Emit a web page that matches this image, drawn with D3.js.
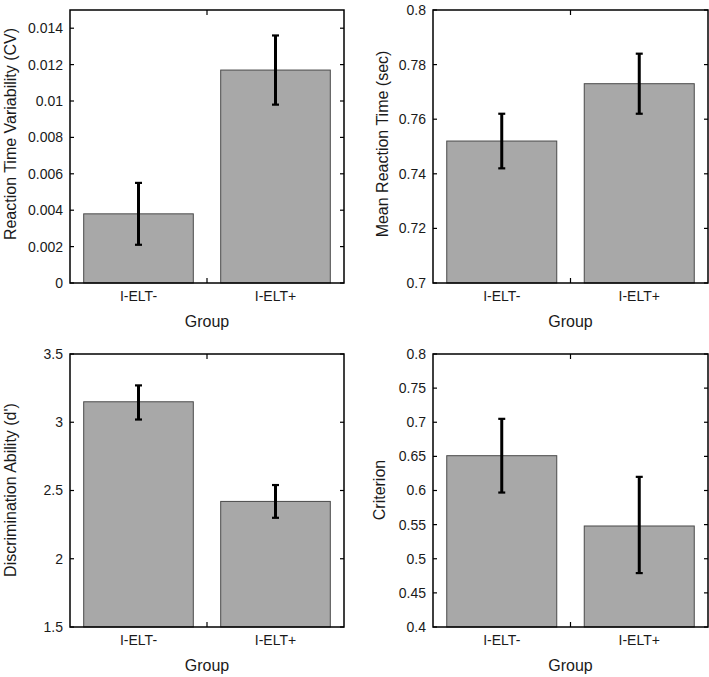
<!DOCTYPE html>
<html>
<head>
<meta charset="utf-8">
<script src="https://cdn.jsdelivr.net/npm/d3@7"></script>
<style>
  body { margin: 0; background: #fff; }
  svg { display: block; }
  text { font-family: "Liberation Sans", Arial, sans-serif; fill: #1a1a1a; }
</style>
</head>
<body>
<svg id="chart" width="709" height="677"></svg>
<script>
// ---- data ----
const groups = ["I-ELT-", "I-ELT+"];

const cvMean  = [0.0038, 0.0117];
const cvLow   = [0.0021, 0.0098];
const cvHigh  = [0.0055, 0.0136];
const cvTicks = [0, 0.002, 0.004, 0.006, 0.008, 0.01, 0.012, 0.014];

const rtMean  = [0.752, 0.773];
const rtLow   = [0.742, 0.762];
const rtHigh  = [0.762, 0.784];
const rtTicks = [0.7, 0.72, 0.74, 0.76, 0.78, 0.8];

const dMean   = [3.15, 2.42];
const dLow    = [3.02, 2.30];
const dHigh   = [3.27, 2.54];
const dTicks  = [1.5, 2, 2.5, 3, 3.5];

const cMean   = [0.651, 0.548];
const cLow    = [0.597, 0.479];
const cHigh   = [0.705, 0.620];
const cTicks  = [0.4, 0.45, 0.5, 0.55, 0.6, 0.65, 0.7, 0.75, 0.8];

const yLabels = ["Reaction Time Variability (CV)", "Mean Reaction Time (sec)",
                 "Discrimination Ability (d')", "Criterion"];
const xLabel = "Group";

// ---- layout (positions only) ----
const panels = [
  {mean: cvMean, low: cvLow, high: cvHigh, ticks: cvTicks, domain: [0, 0.015], label: yLabels[0],
   x0: 70, x1: 344, y0: 10, y1: 283, labX: 10, labY: 134},
  {mean: rtMean, low: rtLow, high: rtHigh, ticks: rtTicks, domain: [0.7, 0.8], label: yLabels[1],
   x0: 433, x1: 708, y0: 10, y1: 283, labX: 382, labY: 144},
  {mean: dMean, low: dLow, high: dHigh, ticks: dTicks, domain: [1.5, 3.5], label: yLabels[2],
   x0: 70, x1: 344, y0: 354, y1: 627, labX: 10, labY: 490},
  {mean: cMean, low: cLow, high: cHigh, ticks: cTicks, domain: [0.4, 0.8], label: yLabels[3],
   x0: 433, x1: 708, y0: 354, y1: 627, labX: 379, labY: 490}
];

const svg = d3.select("#chart");
const TICK_FS = "14px", LABEL_FS = "16px";

panels.forEach(p => {
  const g = svg.append("g");
  const x = d3.scaleBand().domain(groups).range([p.x0, p.x1]).paddingInner(0.2).paddingOuter(0.1);
  const xb = d3.scaleBand().domain(groups).range([p.x0, p.x1]); // for boundary ticks
  const y = d3.scaleLinear().domain(p.domain).range([p.y1, p.y0]);

  // bars
  g.selectAll("rect.bar").data(groups).join("rect")
    .attr("class", "bar")
    .attr("x", d => x(d))
    .attr("width", x.bandwidth())
    .attr("y", (d, i) => y(p.mean[i]))
    .attr("height", (d, i) => y(p.domain[0]) - y(p.mean[i]))
    .attr("fill", "#a8a8a8")
    .attr("stroke", "#4a4a4a")
    .attr("stroke-width", 1);

  // error bars
  const cx = d => x(d) + x.bandwidth() / 2;
  g.selectAll("line.err").data(groups).join("line")
    .attr("x1", cx).attr("x2", cx)
    .attr("y1", (d, i) => y(p.low[i])).attr("y2", (d, i) => y(p.high[i]))
    .attr("stroke", "#000").attr("stroke-width", 3);
  ["low", "high"].forEach(k => {
    g.selectAll("line.cap" + k).data(groups).join("line")
      .attr("x1", d => cx(d) - 3.5).attr("x2", d => cx(d) + 3.5)
      .attr("y1", (d, i) => y(p[k][i])).attr("y2", (d, i) => y(p[k][i]))
      .attr("stroke", "#000").attr("stroke-width", 2.2);
  });

  // left axis (ticks inward, labels outside)
  const left = d3.axisLeft(y).tickValues(p.ticks).tickSize(0).tickPadding(7).tickFormat(d3.format(""));
  const la = g.append("g").attr("transform", `translate(${p.x0},0)`).call(left);
  la.select(".domain").remove();
  la.selectAll("text").style("font-size", TICK_FS).attr("fill", "#1a1a1a");

  // inward ticks on left and right
  g.selectAll("line.ytl").data(p.ticks).join("line")
    .attr("x1", p.x0).attr("x2", p.x0 + 4)
    .attr("y1", d => y(d)).attr("y2", d => y(d))
    .attr("stroke", "#000").attr("stroke-width", 1.2);
  g.selectAll("line.ytr").data(p.ticks).join("line")
    .attr("x1", p.x1).attr("x2", p.x1 - 4)
    .attr("y1", d => y(d)).attr("y2", d => y(d))
    .attr("stroke", "#000").attr("stroke-width", 1.2);

  // bottom category labels
  const bottom = d3.axisBottom(x).tickSize(0).tickPadding(8);
  const ba = g.append("g").attr("transform", `translate(0,${p.y1})`).call(bottom);
  ba.select(".domain").remove();
  ba.selectAll("text").style("font-size", TICK_FS).attr("fill", "#1a1a1a");

  // middle boundary ticks top and bottom
  const mid = xb(groups[1]);
  g.append("line").attr("x1", mid).attr("x2", mid).attr("y1", p.y1).attr("y2", p.y1 - 5)
    .attr("stroke", "#000").attr("stroke-width", 1.2);
  g.append("line").attr("x1", mid).attr("x2", mid).attr("y1", p.y0).attr("y2", p.y0 + 5)
    .attr("stroke", "#000").attr("stroke-width", 1.2);

  // frame
  g.append("rect").attr("x", p.x0).attr("y", p.y0)
    .attr("width", p.x1 - p.x0).attr("height", p.y1 - p.y0)
    .attr("fill", "none").attr("stroke", "#000").attr("stroke-width", 1.5);

  // axis titles
  g.append("text").attr("x", (p.x0 + p.x1) / 2).attr("y", p.y1 + 38)
    .attr("text-anchor", "middle").attr("dominant-baseline", "central")
    .style("font-size", LABEL_FS).text(xLabel);
  g.append("text")
    .attr("transform", `translate(${p.labX},${p.labY}) rotate(-90)`)
    .attr("text-anchor", "middle").attr("dominant-baseline", "central")
    .style("font-size", LABEL_FS).text(p.label);
});
</script>
</body>
</html>
